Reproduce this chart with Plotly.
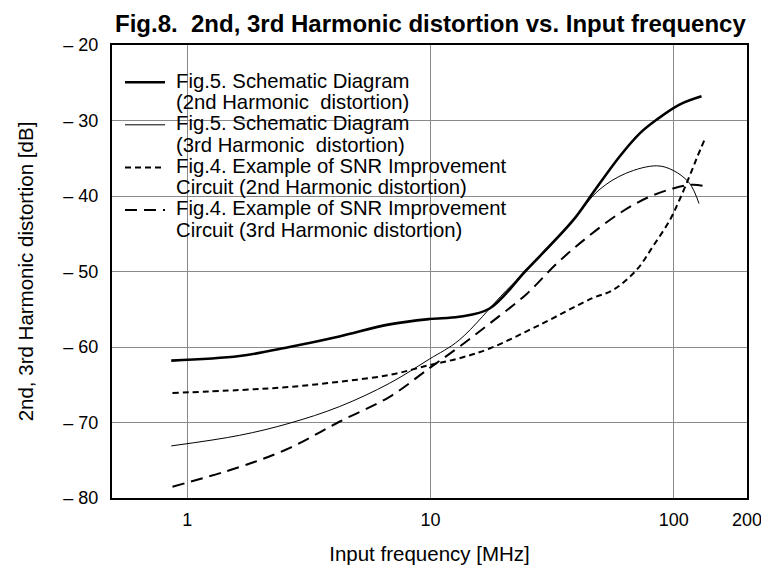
import plotly.graph_objects as go

# ---- data ----
f_sd2 = [0.86, 1.64, 2.63, 4.22, 6.79, 9.9, 13.1, 17.5, 24.8, 38.6, 46.5, 59.8, 72.5, 85.0, 105.6, 130.0]
db_sd2 = [-61.8, -61.2, -60.0, -58.6, -57.0, -56.3, -56.0, -54.9, -49.8, -43.2, -39.6, -34.8, -31.7, -29.9, -27.9, -26.8]

f_sd3 = [0.86, 1.64, 2.63, 4.22, 6.79, 9.9, 13.1, 20.5, 28.0, 38.6, 49.3, 63.5, 85.0, 99.3, 116.0, 127.0]
db_sd3 = [-73.1, -71.7, -70.1, -67.9, -64.8, -61.6, -59.1, -52.5, -48.2, -43.2, -39.2, -37.0, -36.0, -36.6, -38.3, -41.0]

f_snr2 = [0.87, 1.64, 2.63, 4.22, 6.79, 9.9, 13.1, 17.5, 28.0, 46.5, 56.0, 70.3, 82.0, 96.3, 105.6, 116.0, 125.0, 134.0]
db_snr2 = [-66.1, -65.7, -65.3, -64.6, -63.7, -62.4, -61.5, -60.2, -57.1, -53.5, -52.5, -49.8, -46.7, -43.2, -40.5, -37.4, -34.8, -32.5]

f_snr3 = [0.87, 1.64, 2.63, 4.22, 6.79, 9.9, 13.1, 17.5, 24.8, 32.9, 43.6, 59.8, 77.0, 99.3, 120.0, 138.0]
db_snr3 = [-78.5, -75.9, -73.4, -69.9, -66.6, -62.8, -60.0, -56.9, -53.0, -49.0, -45.6, -42.3, -40.3, -39.0, -38.5, -38.8]

x_tickvals = [1, 10, 100, 200]
x_ticktext = ["1", "10", "100", "200"]
y_tickvals = [-20, -30, -40, -50, -60, -70, -80]
y_ticktext = ["– 20", "– 30", "– 40", "– 50", "– 60", "– 70", "– 80"]

legend_lines = [
    ["Fig.5. Schematic Diagram", "(2nd Harmonic\u00a0 distortion)"],
    ["Fig.5. Schematic Diagram", "(3rd Harmonic\u00a0 distortion)"],
    ["Fig.4. Example of SNR Improvement", "Circuit (2nd Harmonic distortion)"],
    ["Fig.4. Example of SNR Improvement", "Circuit (3rd Harmonic distortion)"],
]

FONT = "Liberation Sans, Arial, Helvetica, sans-serif"

# geometry: the page body adds an 8px offset, so margins are given in page pixels minus 8
OFF = 8
W, H = 769, 568
PLOT_L, PLOT_R, PLOT_T, PLOT_B = 112, 747, 45, 498   # target plot frame in page pixels
ML, MT = PLOT_L - OFF, PLOT_T - OFF
MR, MB = W - (PLOT_R - OFF), H - (PLOT_B - OFF)
PW, PH = PLOT_R - PLOT_L, PLOT_B - PLOT_T


def px_x(p):
    return (p - PLOT_L) / PW


def px_y(p):
    return (PLOT_B - p) / PH


styles = [
    dict(color="black", width=2.6),
    dict(color="black", width=1),
    dict(color="black", width=2, dash="6px,4px"),
    dict(color="black", width=2, dash="12px,7px"),
]
series = [(f_sd2, db_sd2), (f_sd3, db_sd3), (f_snr2, db_snr2), (f_snr3, db_snr3)]

fig = go.Figure()
for (fx, dy), st, lines in zip(series, styles, legend_lines):
    fig.add_trace(go.Scatter(x=fx, y=dy, mode="lines", name=" ".join(lines),
                             line=dict(shape="spline", smoothing=1.0, **st), showlegend=False))

# legend: white box over grid, sample lines and two text lines per entry
shapes = [dict(type="rect", xref="paper", yref="paper", x0=px_x(114), x1=px_x(543),
               y0=px_y(247), y1=px_y(65), fillcolor="white", line=dict(width=0), layer="between")]
annotations = []
line_h = 21.3
top = 80.7
for i, (lines, st) in enumerate(zip(legend_lines, styles)):
    y1 = top + 2 * i * line_h
    shapes.append(dict(type="line", xref="paper", yref="paper", x0=px_x(125), x1=px_x(165),
                       y0=px_y(y1 + 1.5), y1=px_y(y1 + 1.5), line=st, layer="above"))
    for j, t in enumerate(lines):
        annotations.append(dict(text=t, xref="paper", yref="paper", x=px_x(175), xanchor="left",
                                y=px_y(y1 + j * line_h), yanchor="middle", showarrow=False,
                                borderpad=0,
                                font=dict(size=20.3, family=FONT, color="black")))

fig.update_layout(
    width=W, height=H,
    margin=dict(l=ML, r=MR, t=MT, b=MB),
    paper_bgcolor="white", plot_bgcolor="white",
    font=dict(family=FONT, size=18, color="black"),
    title=dict(text="<b>Fig.8.\u00a0 2nd, 3rd Harmonic distortion vs. Input frequency</b>",
               x=(115 - OFF) / W, xanchor="left", y=1 - (24 - OFF) / H, yanchor="middle",
               yref="container", font=dict(size=24, family=FONT, color="black")),
    showlegend=False,
    shapes=shapes,
    annotations=annotations,
)
fig.update_xaxes(type="log", range=[-0.309, 2.301], tickvals=x_tickvals, ticktext=x_ticktext,
                 showgrid=True, gridcolor="#8a8a8a", gridwidth=1,
                 showline=True, linecolor="black", linewidth=2, mirror=True,
                 ticks="", tickfont=dict(size=18), zeroline=False, ticklabelstandoff=4,
                 title=dict(text="Input frequency [MHz]", font=dict(size=20.5), standoff=18))
fig.update_yaxes(range=[-80, -20], tickvals=y_tickvals, ticktext=y_ticktext,
                 showgrid=True, gridcolor="#8a8a8a", gridwidth=1,
                 showline=True, linecolor="black", linewidth=2, mirror=True,
                 ticks="", tickfont=dict(size=18), zeroline=False, ticklabelstandoff=8,
                 title=dict(text="2nd, 3rd Harmonic distortion [dB]", font=dict(size=20.5), standoff=24))

fig.write_html("out.html")
